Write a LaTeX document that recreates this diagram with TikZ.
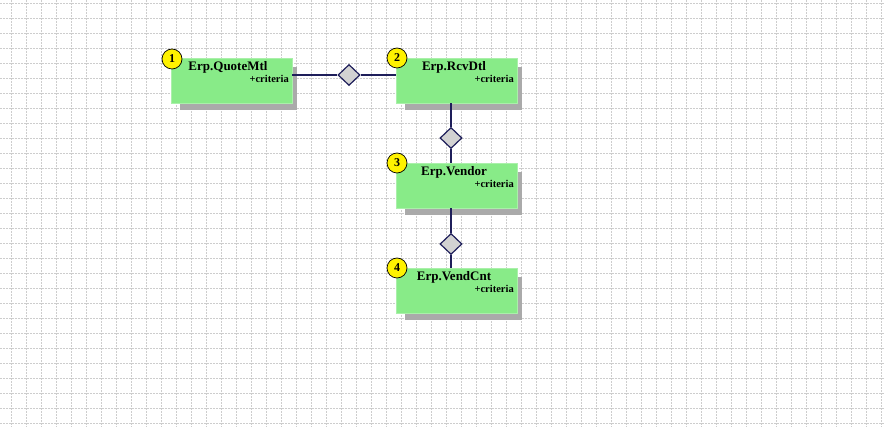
\documentclass[tikz,border=0pt]{standalone}
\usepackage{fontspec}
\setmainfont{Liberation Serif}
\usetikzlibrary{shapes.geometric}
\definecolor{boxgreen}{RGB}{136,235,136}
\definecolor{boxedge}{RGB}{170,240,170}
\definecolor{shadowgray}{RGB}{170,170,170}
\definecolor{linkblue}{RGB}{30,30,90}
\definecolor{diamondgray}{RGB}{210,210,210}
\definecolor{gridgray}{RGB}{205,205,205}
\tikzset{
  entity/.style={rectangle, draw=boxedge, fill=boxgreen, minimum width=121pt, minimum height=45pt, inner sep=0pt, line width=0.6pt},
  shadowbox/.style={rectangle, fill=shadowgray, minimum width=117pt, minimum height=43pt, inner sep=0pt},
  titletext/.style={font=\bfseries\fontsize{13}{13}\selectfont, anchor=base, inner sep=0pt},
  attrtext/.style={font=\bfseries\fontsize{10.5}{10.5}\selectfont, anchor=base east, inner sep=0pt},
  numcircle/.style={circle, draw=black, fill=yellow, minimum size=20pt, inner sep=0pt, line width=0.7pt, font=\bfseries\fontsize{12}{12}\selectfont},
  link/.style={draw=linkblue, line width=1.6pt},
  joint/.style={diamond, draw=linkblue, fill=diamondgray, line width=1.2pt, minimum width=22pt, minimum height=21pt, inner sep=0pt},
  gridline/.style={draw=gridgray, line width=0.6pt, dash pattern=on 2pt off 1pt}
}
\begin{document}
\begin{tikzpicture}[x=1pt,y=-1pt]
\useasboundingbox (0,0) rectangle (885,427);
\fill[white] (0,0) rectangle (885,427);
% grid
\foreach \gx in {11,26,...,885} {\draw[gridline] (\gx,0) -- (\gx,427);}
\foreach \gy in {3,18,...,427} {\draw[gridline] (0,\gy) -- (885,\gy);}
% shadows
\node[shadowbox] (s1) at (238.5,88.5) {};
\node[shadowbox] (s2) at (463.5,88.5) {};
\node[shadowbox] (s3) at (463.5,193.5) {};
\node[shadowbox] (s4) at (463.5,298.5) {};
% boxes
\node[entity] (b1) at (231.5,80.5) {};
\node[entity] (b2) at (456.5,80.5) {};
\node[entity] (b3) at (456.5,185.5) {};
\node[entity] (b4) at (456.5,290.5) {};
% connectors
\node[joint] (d1) at (349,75) {};
\node[joint] (d2) at (451,138) {};
\node[joint] (d3) at (451,244) {};
\draw[link] (b1.east |- d1) -- (d1.west);
\draw[link] (d1.east) -- (b2.west |- d1);
\draw[link] (b2.south -| d2) -- (d2.north);
\draw[link] (d2.south) -- (b3.north -| d2);
\draw[link] (b3.south -| d3) -- (d3.north);
\draw[link] (d3.south) -- (b4.north -| d3);
% texts
\node[titletext] (t1) at (228,71) {Erp.QuoteMtl};
\node[attrtext] (a1) at (289,83) {+criteria};
\node[titletext] (t2) at (454,71) {Erp.RcvDtl};
\node[attrtext] (a2) at (514,83) {+criteria};
\node[titletext] (t3) at (454,176) {Erp.Vendor};
\node[attrtext] (a3) at (514,188) {+criteria};
\node[titletext] (t4) at (454,281) {Erp.VendCnt};
\node[attrtext] (a4) at (514,293) {+criteria};
% numbers
\node[numcircle] (n1) at (172,59) {1};
\node[numcircle] (n2) at (397,58) {2};
\node[numcircle] (n3) at (397,163) {3};
\node[numcircle] (n4) at (397,268) {4};
\end{tikzpicture}
\end{document}
